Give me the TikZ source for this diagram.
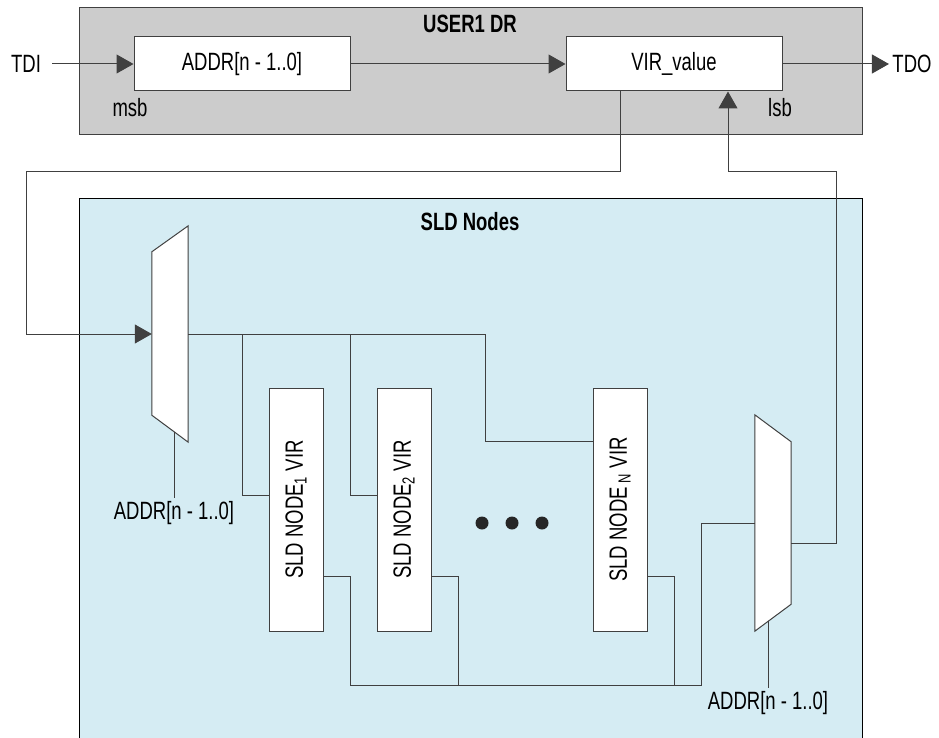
\documentclass[tikz,border=0pt]{standalone}
\usepackage{fontspec}
\setmainfont[FakeStretch=0.74]{Liberation Sans}
\usepackage{tikz}
\usetikzlibrary{calc,arrows.meta}
\definecolor{regfill}{RGB}{204, 204, 204}
\definecolor{sldfill}{RGB}{213, 236, 243}
\definecolor{wiregray}{RGB}{64, 64, 64}

\begin{document}
\begin{tikzpicture}[
  x=1pt, y=-1pt,
  font=\fontsize{25}{29}\selectfont,
  wire/.style={draw=wiregray, line width=1pt},
  sig/.style={wire, -{Triangle[length=17pt,width=19pt]}},
  regbox/.style={draw=wiregray, line width=1pt, fill=white, minimum width=216pt, minimum height=54pt, inner sep=0pt},
  virbox/.style={draw=wiregray, line width=1pt, fill=white, minimum width=54pt, minimum height=243pt, inner sep=0pt},
  muxspot/.style={minimum width=36pt, minimum height=216pt, inner sep=0pt},
  muxshape/.style={draw=wiregray, fill=white, line width=1pt}
]
  \useasboundingbox (0,0) rectangle (939,738);

  % USER1 DR register
  \node[draw=wiregray, line width=1pt, fill=regfill, minimum width=783pt, minimum height=127pt, inner sep=0pt] (dr) at (470.5,71.5) {};
  \node[font=\fontsize{25}{29}\selectfont\bfseries] (drtitle) at (470,24) {USER1 DR};
  \node[regbox] (addr) at (242,64) {ADDR[n - 1..0]};
  \node[regbox] (vir) at (674,64) {VIR\_value};
  \node (tdi) at (26,64) {TDI};
  \node (tdo) at (912,64) {TDO};
  \node (msb) at (130,108) {msb};
  \node (lsb) at (780,108) {lsb};

  % SLD nodes
  \node[draw=black, line width=1pt, fill=sldfill, minimum width=783pt, minimum height=560pt, inner sep=0pt, anchor=north west] (sld) at (79,198) {};
  \node[font=\fontsize{25}{29}\selectfont\bfseries] (sldtitle) at (470,222) {SLD Nodes};

  \node[virbox] (v1) at (296,509.5) {\rotatebox{90}{SLD NODE\textsubscript{1} VIR}};
  \node[virbox] (v2) at (404,509.5) {\rotatebox{90}{SLD NODE\textsubscript{2} VIR}};
  \node[virbox] (vN) at (620,509.5) {\rotatebox{90}{SLD NODE\,\textsubscript{N} VIR}};
  \foreach \x in {482,512,542}
    \fill[black!85] (\x,523) circle (6.5pt);

  \node[muxspot] (muxa) at (170,334) {};
  \node[muxspot] (muxb) at (773,523) {};
  \draw[muxshape] ($(muxa.north west)+(0,26)$) -- (muxa.north east) -- (muxa.south east) -- ($(muxa.south west)+(0,-27)$) -- cycle;
  \draw[muxshape] (muxb.north west) -- ($(muxb.north east)+(0,27)$) -- ($(muxb.south east)+(0,-27)$) -- (muxb.south west) -- cycle;

  \node (sela) at (174,513) {ADDR[n - 1..0]};
  \node (selb) at (768,703) {ADDR[n - 1..0]};
  \coordinate (sa) at (174,432);
  \coordinate (sb) at (768,621);
  \coordinate (loopa) at (26,172);
  \coordinate (loopb) at (836,172);

  % scan path through the register
  \draw[sig] ([xshift=8pt]tdi.east) -- (addr.west);
  \draw[sig] (addr.east) -- (vir.west);
  \draw[sig] (vir.east) -- (tdo.west);

  % VIR_value out to the nodes and back
  \draw[sig] ([xshift=-54pt]vir.south) |- (loopa) |- (muxa.west);
  \draw[wire] (muxa.east) -- (485,334) |- ($(vN.north west)+(0,54)$);
  \foreach \v/\xb in {v1/242, v2/350}
    \draw[wire] (\xb,334) |- ($(\v.north west)+(0,108)$);
  \foreach \v/\xb in {v1/350, v2/458, vN/674}
    \draw[wire] ($(\v.north east)+(0,189)$) -| (\xb,685);
  \draw[wire] (350,685) -- (701,685) |- (muxb.west);
  \draw[sig] ($(muxb.east)+(0,20)$) -| (loopb) -| ([xshift=54pt]vir.south);

  % select lines
  \draw[wire] (sa) -- (sela.north);
  \draw[wire] (sb) -- (selb.north);
\end{tikzpicture}
\end{document}
